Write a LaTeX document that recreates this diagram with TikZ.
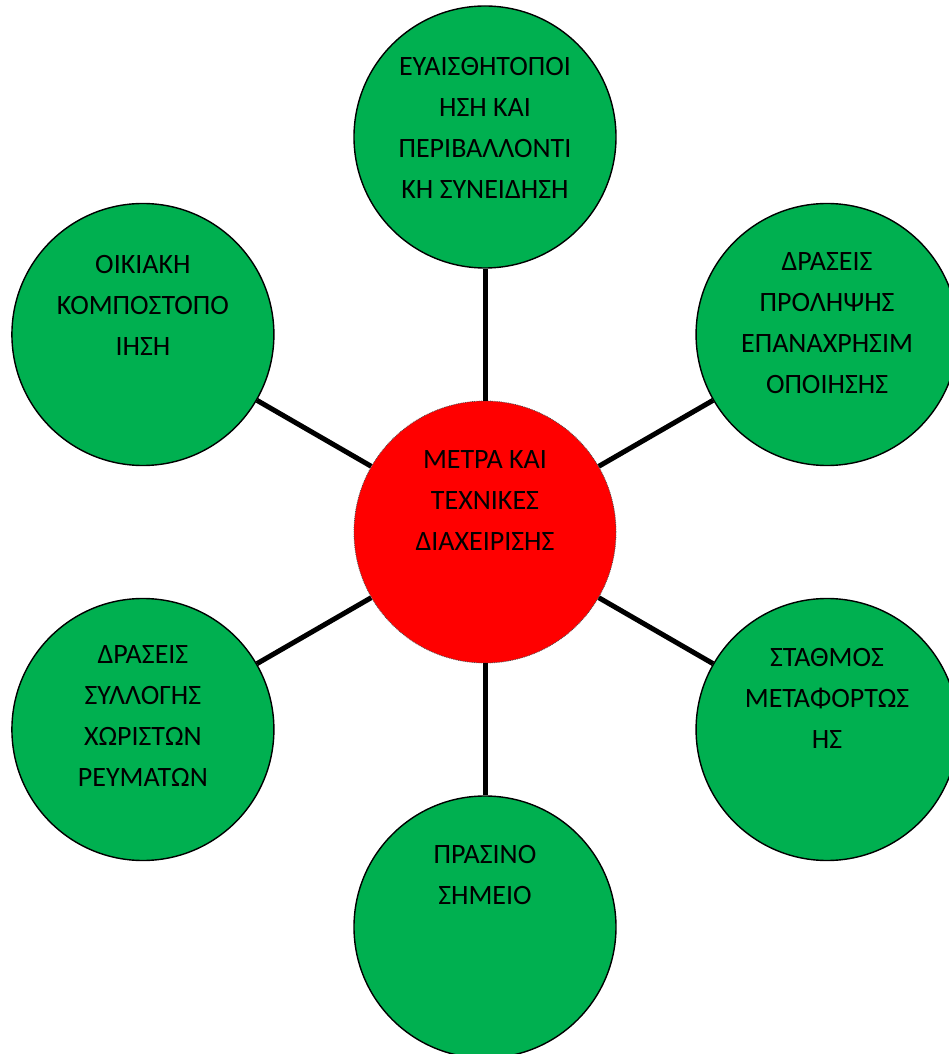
\documentclass[tikz,border=0pt]{standalone}
\usepackage{fontspec}
\setmainfont{Carlito}
\usepackage{xcolor}
\usepackage{tikz}
\usetikzlibrary{positioning}
\definecolor{leafgreen}{HTML}{00B050}
\definecolor{hubred}{HTML}{FF0000}

\begin{document}
\begin{tikzpicture}[
  x=1pt, y=1pt,
  hub/.style={circle, draw=black!70, densely dotted, line width=0.8pt, fill=hubred, minimum size=262pt, inner sep=0pt},
  leaf/.style={circle, draw=black, line width=1.4pt, fill=leafgreen, minimum size=262pt, inner sep=0pt},
  txt/.style={align=center, inner sep=0pt, font=\fontsize{28}{41}\selectfont},
  spoke/.style={line width=5pt, draw=black}
]
\useasboundingbox (-485,-522) rectangle (463,532);

\node[hub] (hub) at (0,0) {};
\node[leaf] (aware) at (90:395) {};
\node[leaf] (prevent) at (30:395) {};
\node[leaf] (transfer) at (-30:395) {};
\node[leaf] (greenpt) at (-90:395) {};
\node[leaf] (collect) at (-150:395) {};
\node[leaf] (compost) at (150:395) {};

\draw[spoke] (hub) -- (aware);
\draw[spoke] (hub) -- (prevent);
\draw[spoke] (hub) -- (transfer);
\draw[spoke] (hub) -- (greenpt);
\draw[spoke] (hub) -- (collect);
\draw[spoke] (hub) -- (compost);

\node[txt, below=50pt of hub.north] (hub-t) {ΜΕΤΡΑ ΚΑΙ\\ΤΕΧΝΙΚΕΣ\\ΔΙΑΧΕΙΡΙΣΗΣ};
\node[txt, below=52pt of aware.north] (aware-t) {ΕΥΑΙΣΘΗΤΟΠΟΙ\\ΗΣΗ ΚΑΙ\\ΠΕΡΙΒΑΛΛΟΝΤΙ\\ΚΗ ΣΥΝΕΙΔΗΣΗ};
\node[txt, below=50pt of prevent.north] (prevent-t) {ΔΡΑΣΕΙΣ\\ΠΡΟΛΗΨΗΣ\\ΕΠΑΝΑΧΡΗΣΙΜ\\ΟΠΟΙΗΣΗΣ};
\node[txt, below=50pt of transfer.north] (transfer-t) {ΣΤΑΘΜΟΣ\\ΜΕΤΑΦΟΡΤΩΣ\\ΗΣ};
\node[txt, below=50pt of greenpt.north] (greenpt-t) {ΠΡΑΣΙΝΟ\\ΣΗΜΕΙΟ};
\node[txt, below=48pt of collect.north] (collect-t) {ΔΡΑΣΕΙΣ\\ΣΥΛΛΟΓΗΣ\\ΧΩΡΙΣΤΩΝ\\ΡΕΥΜΑΤΩΝ};
\node[txt, below=52pt of compost.north] (compost-t) {ΟΙΚΙΑΚΗ\\ΚΟΜΠΟΣΤΟΠΟ\\ΙΗΣΗ};
\end{tikzpicture}
\end{document}
